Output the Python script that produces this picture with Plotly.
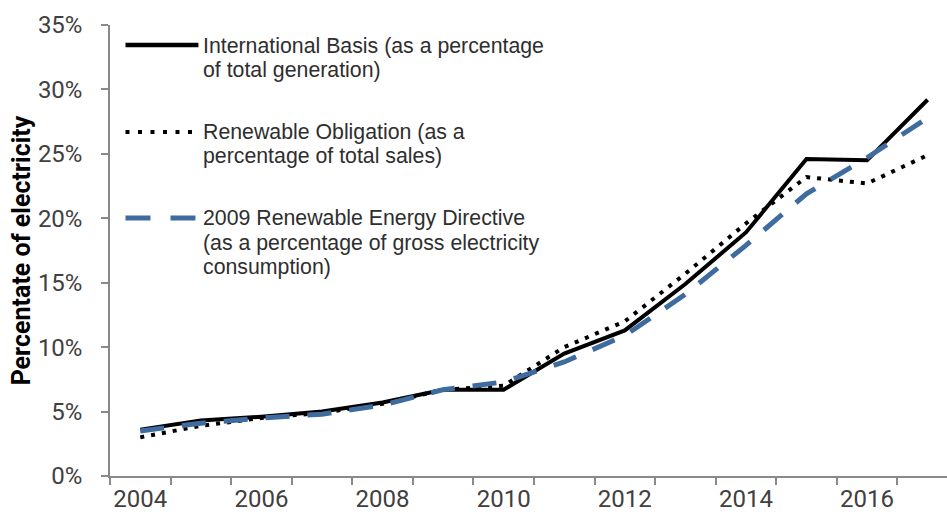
import plotly.graph_objects as go

years = list(range(2004, 2018))
international_basis = [3.6, 4.3, 4.6, 5.0, 5.7, 6.7, 6.7, 9.5, 11.3, 14.9, 18.9, 24.6, 24.5, 29.2]
renewable_obligation = [3.0, 3.9, 4.5, 4.9, 5.6, 6.7, 7.0, 10.0, 12.0, 15.7, 19.6, 23.2, 22.7, 24.9]
renewable_directive = [3.5, 4.1, 4.5, 4.8, 5.5, 6.7, 7.3, 8.85, 10.9, 14.1, 17.9, 21.9, 24.7, 27.8]

legend_labels = [
    ["International Basis (as a percentage", "of total generation)"],
    ["Renewable Obligation (as a", "percentage of total sales)"],
    ["2009 Renewable Energy Directive", "(as a percentage of gross electricity", "consumption)"],
]
y_ticks = [0, 5, 10, 15, 20, 25, 30, 35]
x_ticks = [2004, 2006, 2008, 2010, 2012, 2014, 2016]

BLUE = "#3F6C9E"
W, H = 947, 521
L, R, T, B = 109.5, 0, 25, 45
pw, ph = W - L - R, H - T - B

def px(x):
    return (x - L) / pw

def py(y):
    return (H - B - y) / ph

fig = go.Figure()
fig.add_trace(go.Scatter(x=years, y=international_basis, mode="lines",
                         line=dict(color="black", width=4), showlegend=False))
fig.add_trace(go.Scatter(x=years, y=renewable_obligation, mode="lines",
                         line=dict(color="black", width=4, dash="4px,7px"), showlegend=False))
fig.add_trace(go.Scatter(x=years, y=renewable_directive, mode="lines",
                         line=dict(color=BLUE, width=5, dash="24px,18px"), showlegend=False))

# manual legend
swatches = [
    dict(y=45, x1=198, color="black", width=4.5, dash="solid"),
    dict(y=132, x1=193, color="black", width=4, dash="4px,8.5px"),
    dict(y=218, x1=195, color=BLUE, width=5, dash="25px,20px"),
]
line_centers = [[46, 70], [132, 156], [218, 243, 267]]
for sw, labs, ys in zip(swatches, legend_labels, line_centers):
    fig.add_shape(type="line", xref="paper", yref="paper",
                  x0=px(125), x1=px(sw["x1"]), y0=py(sw["y"]), y1=py(sw["y"]),
                  line=dict(color=sw["color"], width=sw["width"], dash=sw["dash"]))
    for lab, yc in zip(labs, ys):
        fig.add_annotation(xref="paper", yref="paper", x=px(201), y=py(yc),
                           xanchor="left", yanchor="middle", align="left", showarrow=False,
                           text=lab, font=dict(family="Liberation Sans, Arial", size=21.3, color="#2e2e2e"))

axis_col = "#898989"
fig.update_layout(
    width=W, height=H,
    margin=dict(l=L, r=R, t=T, b=B, pad=0),
    paper_bgcolor="white", plot_bgcolor="white",
    xaxis=dict(
        range=[2003.5, 2003.5 + pw / 60.6],
        tickvals=x_ticks, ticktext=[str(v) for v in x_ticks],
        ticks="", showgrid=False, zeroline=False,
        showline=True, linecolor=axis_col, linewidth=1.5,
        tickfont=dict(family="Roboto", size=24, color="#404040"),
        ticklabelstandoff=0,
        minor=dict(tick0=2003.5, dtick=1, ticks="outside", ticklen=7,
                   tickcolor=axis_col, tickwidth=1.5, showgrid=False),
    ),
    yaxis=dict(
        range=[0, 35], tickvals=y_ticks, ticktext=[f"{v}%" for v in y_ticks],
        ticks="outside", ticklen=7, tickcolor=axis_col, tickwidth=1.5,
        showgrid=False, zeroline=False,
        showline=True, linecolor=axis_col, linewidth=1.5,
        tickfont=dict(family="Roboto", size=24, color="#404040"),
        ticklabelstandoff=14,
        title=dict(text="<b>Percentate of electricity</b>",
                   font=dict(family="Roboto", size=25, color="black"), standoff=0),
    ),
)
fig.write_html("out.html")
